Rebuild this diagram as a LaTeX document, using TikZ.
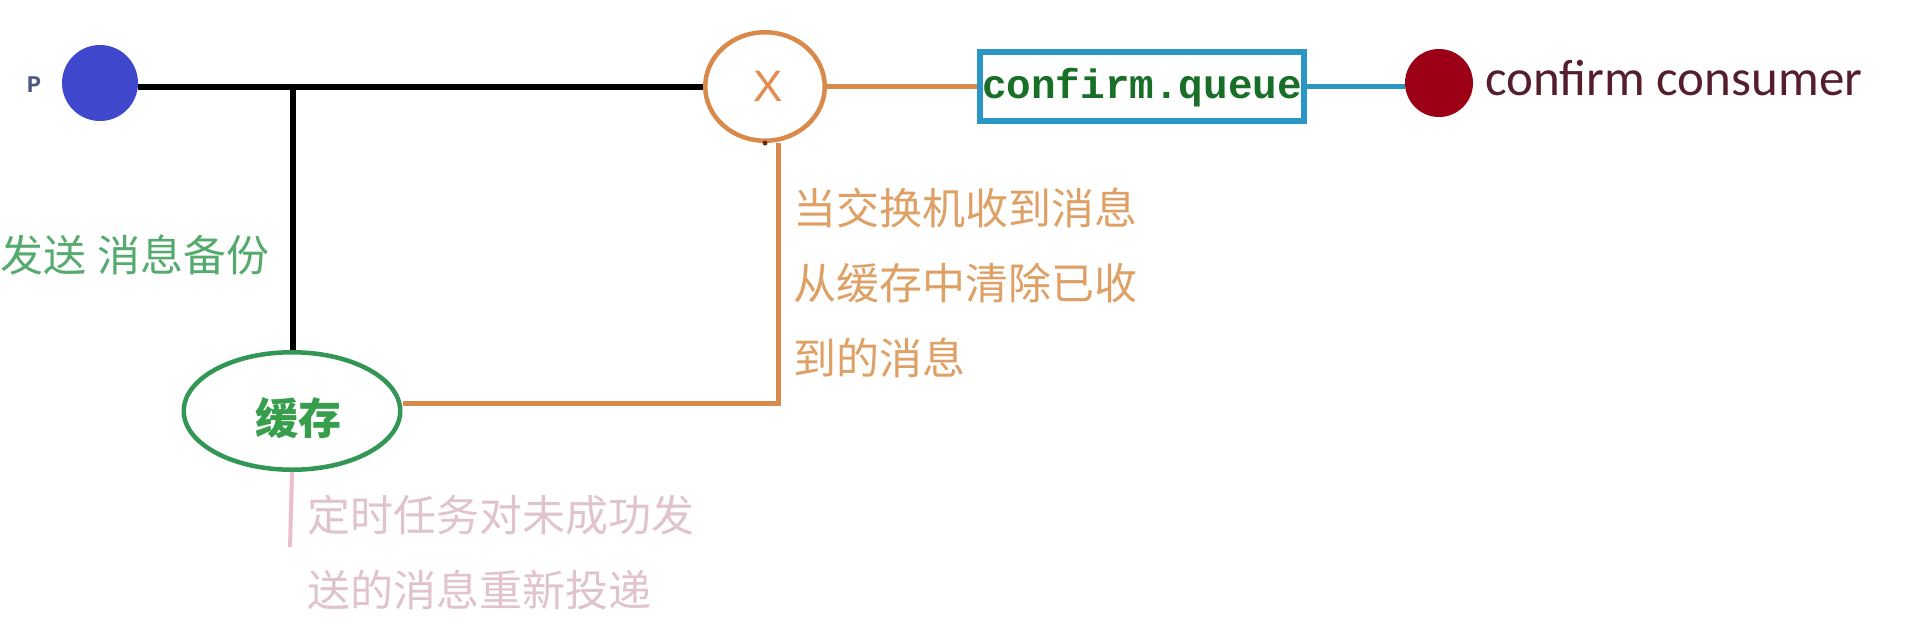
\documentclass[tikz,border=0pt]{standalone}
\usepackage{fontspec}
\usetikzlibrary{shapes.geometric}
\newfontfamily\cjk{Noto Sans CJK SC}
\newfontfamily\monof{Liberation Mono}
\newfontfamily\sansf{Liberation Sans}
\newfontfamily\geof{Carlito}
\definecolor{pblue}{RGB}{63,72,204}
\definecolor{plabel}{RGB}{80,88,130}
\definecolor{orln}{RGB}{217,137,74}
\definecolor{ortx}{RGB}{222,160,100}
\definecolor{xtx}{RGB}{228,140,80}
\definecolor{cyln}{RGB}{42,150,196}
\definecolor{grln}{RGB}{50,150,85}
\definecolor{grbold}{RGB}{55,158,75}
\definecolor{grtx}{RGB}{85,170,110}
\definecolor{qtx}{RGB}{25,110,40}
\definecolor{cred}{RGB}{155,0,22}
\definecolor{ctx}{RGB}{85,30,45}
\definecolor{pkln}{RGB}{235,190,205}
\definecolor{pktx}{RGB}{225,195,205}
\definecolor{dotc}{RGB}{110,40,20}
\begin{document}
\begin{tikzpicture}[x=1pt,y=-1pt,
  blackline/.style={draw=black,line width=6pt},
  orangeline/.style={draw=orln,line width=5pt,line join=miter},
  cyanline/.style={draw=cyln,line width=5pt},
  pinkline/.style={draw=pkln,line width=4pt},
  cjktext/.style={inner sep=0pt,anchor=base west,font=\cjk\fontsize{43}{50}\selectfont},
]
\useasboundingbox[fill=white] (0,0) rectangle (1905,632);

% nodes
\node[circle,fill=pblue,minimum size=76pt,inner sep=0pt] (p) at (100,83) {};
\node[inner sep=0pt,anchor=base,text=plabel,font=\monof\bfseries\fontsize{24}{28}\selectfont] (pl) at (34,92) {P};

\node[ellipse,draw=orln,line width=4.5pt,minimum width=119.5pt,minimum height=108.5pt,inner sep=0pt,
  text=xtx,font=\sansf\fontsize{44}{50}\selectfont] (x) at (765,86.5) {\hspace*{6pt}\raisebox{-5.5pt}{X}};

\node[rectangle,draw=cyln,line width=6pt,minimum width=324pt,minimum height=69pt,inner sep=0pt] (q) at (1142,86.5) {};
\node[inner sep=0pt,anchor=base,text=qtx,font=\monof\bfseries\fontsize{41}{48}\selectfont] (qt) at (1142,98) {confirm.queue};

\node[circle,fill=cred,minimum size=68pt,inner sep=0pt] (c) at (1439,83) {};
\node[inner sep=0pt,anchor=base west,text=ctx,font=\geof\fontsize{51}{58}\selectfont] (ct) at (1485,95) {confirm consumer};

\node[ellipse,draw=grln,line width=4.5pt,minimum width=216.5pt,minimum height=117.5pt,inner sep=0pt] (cache) at (292,411) {};
\node[inner sep=0pt,anchor=base,text=grbold,font=\cjk\bfseries\fontsize{43}{50}\selectfont] (cachet) at (298,434) {缓存};

\node[cjktext,text=grtx] (g) at (0,271) {发送\hspace{11pt}消息备份};

\node[cjktext,text=ortx] (o1) at (793,224) {当交换机收到消息};
\node[cjktext,text=ortx] (o2) at (793,299) {从缓存中清除已收};
\node[cjktext,text=ortx] (o3) at (793,374) {到的消息};

\node[cjktext,text=pktx] (k1) at (307,531) {定时任务对未成功发};
\node[cjktext,text=pktx] (k2) at (307,606) {送的消息重新投递};

% connectors
\coordinate (j) at (293,86.5);
\draw[blackline] (p.east |- x.west) -- (x.west);
\draw[blackline] (j) -- (j |- cache.north);
\draw[orangeline] (x.east) -- (q.west);
\draw[cyanline] (q.east) -- (q.east -| c.west);
\coordinate (k) at (778,403);
\draw[orangeline] (x.south -| k) -- (k) -- (k -| cache.east);
\fill[dotc] (x.south) circle (2.5pt);
\draw[pinkline] (cache.south) -- ++(-2,75);
\end{tikzpicture}
\end{document}
